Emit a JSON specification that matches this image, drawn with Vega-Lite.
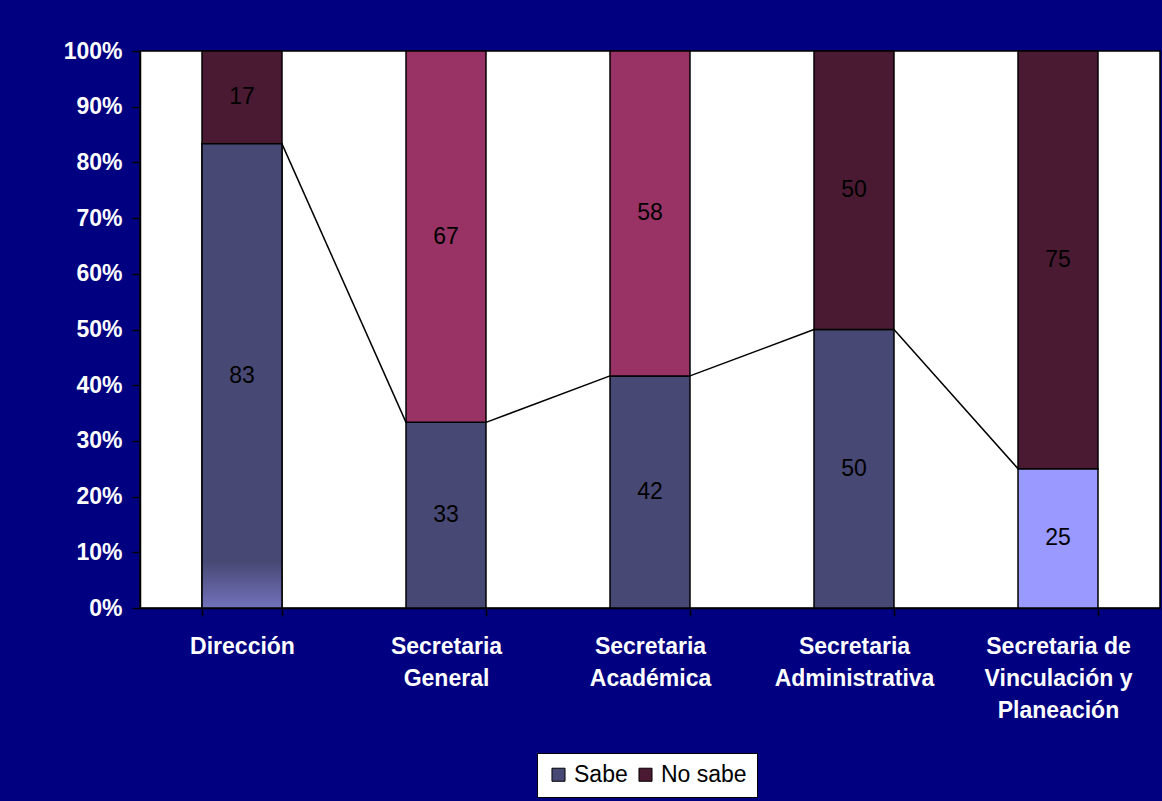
{
  "$schema": "https://vega.github.io/schema/vega-lite/v6.json",
  "width": 1020,
  "height": 557,
  "autosize": "none",
  "padding": {"left": 140, "top": 51, "right": 2, "bottom": 193},
  "background": "#000080",
  "config": {
    "view": {"fill": "#ffffff", "stroke": "#000000", "strokeWidth": 1.5},
    "font": "Liberation Sans"
  },
  "datasets": {
    "barras": [
      {"area": "Dirección", "serie": "Sabe", "pct": 83.33},
      {"area": "Dirección", "serie": "No sabe", "pct": 16.67},
      {"area": "Secretaria General", "serie": "Sabe", "pct": 33.33},
      {"area": "Secretaria General", "serie": "No sabe", "pct": 66.67},
      {"area": "Secretaria Académica", "serie": "Sabe", "pct": 41.67},
      {"area": "Secretaria Académica", "serie": "No sabe", "pct": 58.33},
      {"area": "Secretaria Administrativa", "serie": "Sabe", "pct": 50},
      {"area": "Secretaria Administrativa", "serie": "No sabe", "pct": 50},
      {"area": "Secretaria de Vinculación y Planeación", "serie": "Sabe", "pct": 25},
      {"area": "Secretaria de Vinculación y Planeación", "serie": "No sabe", "pct": 75}
    ],
    "lineas": [
      {"desde": "Dirección", "hasta": "Secretaria General", "v1": 83.33, "v2": 33.33},
      {"desde": "Secretaria General", "hasta": "Secretaria Académica", "v1": 33.33, "v2": 41.67},
      {"desde": "Secretaria Académica", "hasta": "Secretaria Administrativa", "v1": 41.67, "v2": 50},
      {"desde": "Secretaria Administrativa", "hasta": "Secretaria de Vinculación y Planeación", "v1": 50, "v2": 25}
    ]
  },
  "layer": [
    {
      "data": {"name": "barras"},
      "transform": [
        {"stack": "pct", "groupby": ["area"], "sort": [{"field": "serie", "order": "descending"}], "as": ["y0", "y1"]}
      ],
      "mark": {"type": "bar", "stroke": "#000000", "strokeWidth": 1.5},
      "encoding": {
        "x": {
          "field": "area",
          "type": "nominal",
          "sort": null,
          "scale": {
            "domain": ["Dirección", "Secretaria General", "Secretaria Académica", "Secretaria Administrativa", "Secretaria de Vinculación y Planeación"],
            "paddingInner": 0.608,
            "paddingOuter": 0.304
          },
          "axis": {
            "title": null,
            "labelAngle": 0,
            "labelColor": "#ffffff",
            "labelFont": "Liberation Sans",
            "labelFontSize": 23,
            "labelFontWeight": "bold",
            "labelBaseline": "top",
            "labelPadding": 19,
            "labelLineHeight": 32,
            "labelLimit": 400,
            "labelExpr": "!isString(datum.value) ? '' : (datum.value == 'Secretaria de Vinculación y Planeación' ? ['Secretaria de', 'Vinculación y', 'Planeación'] : split(datum.value, ' '))",
            "domainColor": "#000000",
            "domainWidth": 1.5,
            "tickColor": "#000000",
            "tickWidth": 1.5,
            "tickSize": 8,
            "tickBand": "extent"
          }
        },
        "y": {
          "field": "y0",
          "type": "quantitative",
          "scale": {"domain": [0, 100], "nice": false},
          "axis": {
            "title": null,
            "values": [0, 10, 20, 30, 40, 50, 60, 70, 80, 90, 100],
            "labelExpr": "datum.value + '%'",
            "grid": false,
            "labelColor": "#ffffff",
            "labelFont": "Liberation Sans",
            "labelFontSize": 23,
            "labelFontWeight": "bold",
            "labelPadding": 10,
            "tickSize": 8,
            "domainColor": "#000000",
            "domainWidth": 1.5,
            "tickColor": "#000000",
            "tickWidth": 1.5
          }
        },
        "y2": {"field": "y1"},
        "color": {
          "field": "serie",
          "type": "nominal",
          "scale": {"domain": ["Sabe", "No sabe"], "range": ["#484874", "#4a1a32"]},
          "condition": [
            {"test": "(datum.area == 'Secretaria General' || datum.area == 'Secretaria Académica') && datum.serie == 'No sabe'", "value": "#993366"},
            {"test": "datum.area == 'Secretaria de Vinculación y Planeación' && datum.serie == 'Sabe'", "value": "#9999ff"}
          ],
          "legend": {
            "title": null,
            "orient": "none",
            "legendX": 397,
            "legendY": 702,
            "direction": "horizontal",
            "fillColor": "#ffffff",
            "strokeColor": "#000000",
            "padding": 10,
            "labelFont": "Liberation Sans",
            "labelFontSize": 23,
            "labelColor": "#000000",
            "symbolType": "square",
            "symbolSize": 170,
            "symbolStrokeColor": "#000000",
            "symbolStrokeWidth": 1,
            "symbolOpacity": 1,
            "columnPadding": 6,
            "labelOffset": 4
          }
        }
      }
    },
    {
      "data": {"name": "barras"},
      "transform": [
        {"filter": "datum.area == 'Dirección' && datum.serie == 'Sabe'"}
      ],
      "mark": {
        "type": "bar",
        "stroke": "#000000",
        "strokeWidth": 1.5,
        "color": {
          "gradient": "linear",
          "x1": 0, "y1": 0, "x2": 0, "y2": 1,
          "stops": [
            {"offset": 0, "color": "#484874"},
            {"offset": 0.9, "color": "#484874"},
            {"offset": 1, "color": "#7272bc"}
          ]
        }
      },
      "encoding": {
        "x": {"field": "area", "type": "nominal"},
        "y": {"field": "pct", "type": "quantitative"}
      }
    },
    {
      "data": {"name": "lineas"},
      "mark": {"type": "rule", "color": "#000000", "strokeWidth": 1.5},
      "encoding": {
        "x": {"field": "desde", "type": "nominal", "bandPosition": 1},
        "x2": {"field": "hasta", "bandPosition": 0},
        "y": {"field": "v1", "type": "quantitative"},
        "y2": {"field": "v2"}
      }
    },
    {
      "data": {"name": "barras"},
      "transform": [
        {"stack": "pct", "groupby": ["area"], "sort": [{"field": "serie", "order": "descending"}], "as": ["y0", "y1"]},
        {"calculate": "(datum.y0 + datum.y1) / 2", "as": "medio"}
      ],
      "mark": {"type": "text", "font": "Liberation Sans", "fontSize": 23, "color": "#000000"},
      "encoding": {
        "x": {"field": "area", "type": "nominal"},
        "y": {"field": "medio", "type": "quantitative"},
        "text": {"field": "pct", "type": "quantitative", "format": ".0f"}
      }
    }
  ]
}
